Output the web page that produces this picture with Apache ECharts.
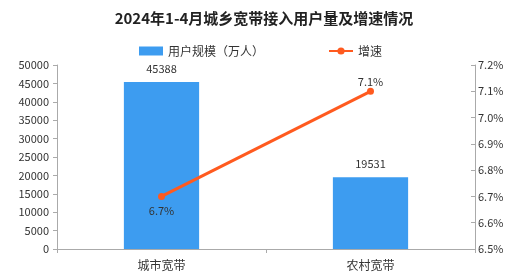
<!DOCTYPE html>
<html><head><meta charset="utf-8">
<script src="https://cdn.jsdelivr.net/npm/echarts@6/dist/echarts.min.js"></script>
<style>html,body{margin:0;padding:0;background:#fff}#c{width:528px;height:279px}</style>
</head><body><div id="c"></div>
<script>
const categories = ['城市宽带', '农村宽带'];
const users = [45388, 19531];
const growth = [6.7, 7.1];
const titleText = '2024年1-4月城乡宽带接入用户量及增速情况';
const barName = '用户规模（万人）';
const lineName = '增速';

const chart = echarts.init(document.getElementById('c'));
const font = '"Noto Sans CJK SC", "DejaVu Sans", sans-serif';
chart.setOption({
  animation: false,
  title: { text: titleText, left: 'center', top: 6,
    textStyle: { fontSize: 15, fontWeight: 'bold', color: '#222', fontFamily: font } },
  legend: {
    top: 40, left: 134, itemGap: 64, itemWidth: 24, itemHeight: 9,
    textStyle: { fontSize: 12, color: '#333', fontFamily: font },
    data: [{ name: barName, icon: 'rect' }, { name: lineName }]
  },
  grid: { left: 57, right: 53, top: 65, bottom: 30 },
  xAxis: {
    type: 'category', data: categories,
    axisLine: { lineStyle: { color: '#aaa' } },
    axisTick: { show: true, alignWithLabel: false, length: 4, lineStyle: { color: '#aaa' } },
    axisLabel: { fontSize: 12, color: '#333', margin: 10, fontFamily: font }
  },
  yAxis: [{
    type: 'value', min: 0, max: 50000, interval: 5000,
    axisLine: { show: true, lineStyle: { color: '#aaa' } },
    axisTick: { show: true, length: 4, lineStyle: { color: '#aaa' } },
    splitLine: { show: false },
    axisLabel: { fontSize: 11, color: '#333', margin: 8, fontFamily: font,
      formatter: v => String(v) }
  }, {
    type: 'value', min: 6.5, max: 7.2, interval: 0.1,
    axisLine: { show: true, lineStyle: { color: '#aaa' } },
    axisTick: { show: true, length: 4, inside: true, lineStyle: { color: '#aaa' } },
    splitLine: { show: false },
    axisLabel: { fontSize: 11, color: '#333', margin: 3, fontFamily: font,
      formatter: v => v.toFixed(1) + '%' }
  }],
  series: [{
    name: barName, type: 'bar', data: users, barWidth: '36%',
    itemStyle: { color: '#3D9CF0' },
    label: { show: true, position: 'top', fontSize: 11, color: '#333', distance: 8, fontFamily: font,
      formatter: p => String(p.value) }
  }, {
    name: lineName, type: 'line', yAxisIndex: 1,
    data: [
      { value: growth[0], label: { position: 'bottom', distance: 5 } },
      { value: growth[1], label: { position: 'top', distance: 0 } }
    ],
    symbol: 'circle', symbolSize: 7,
    lineStyle: { color: '#FF5A1F', width: 3 },
    itemStyle: { color: '#FF5A1F' },
    label: { show: true, fontSize: 11, color: '#333', fontFamily: font,
      formatter: p => p.value.toFixed(1) + '%' }
  }]
});
</script></body></html>
